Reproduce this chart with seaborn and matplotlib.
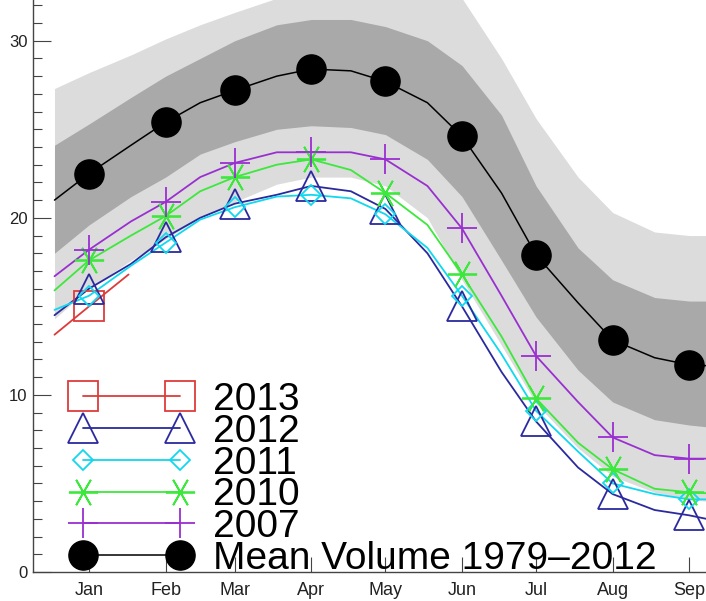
import matplotlib
matplotlib.use("Agg")
import matplotlib.pyplot as plt
from matplotlib.lines import Line2D
from matplotlib.ticker import MultipleLocator
import seaborn as sns

days = [1, 15, 32, 46, 60, 74, 91, 105, 121, 135, 152, 166, 182, 196, 213, 227, 244, 258, 265]
# mid-month positions (marker days) and their month names
mid_days = [15, 46, 74, 105, 135, 166, 196, 227, 258]
months = ["Jan", "Feb", "Mar", "Apr", "May", "Jun", "Jul", "Aug", "Sep"]
mid_idx = [1, 3, 5, 7, 9, 11, 13, 15, 17]

# mean volume 1979-2012 and the +-1 / +-2 std bands (1000 km^3)
mean_vol = [21.0, 22.5, 24.1, 25.4, 26.5, 27.2, 28.0, 28.4, 28.3, 27.7, 26.5, 24.6,
            21.4, 17.9, 15.2, 13.1, 12.1, 11.7, 11.65]
sd2_hi = [27.3, 28.2, 29.2, 30.1, 30.9, 31.6, 32.4, 33.2, 33.6, 33.6, 33.3, 32.4,
          29.0, 25.6, 22.3, 20.3, 19.2, 19.0, 19.0]
sd1_hi = [24.1, 25.3, 26.8, 28.0, 29.0, 30.0, 30.9, 31.2, 31.2, 30.8, 30.0, 28.6,
          25.8, 21.8, 18.3, 16.5, 15.5, 15.3, 15.3]
sd1_lo = [18.0, 19.6, 21.2, 22.3, 23.6, 24.3, 25.0, 25.2, 25.1, 24.7, 23.3, 21.2,
          17.6, 14.4, 11.4, 9.6, 8.6, 8.3, 8.2]
sd2_lo = [14.3, 16.0, 17.6, 18.8, 20.0, 20.9, 21.9, 22.3, 22.3, 21.8, 20.0, 16.5,
          12.8, 9.5, 7.0, 5.4, 4.5, 4.1, 4.0]

# individual years
v2007 = [16.7, 18.2, 19.8, 20.9, 22.3, 23.1, 23.7, 23.7, 23.7, 23.3, 21.8, 19.4,
         15.6, 12.2, 9.6, 7.6, 6.6, 6.4, 6.4]
v2010 = [15.9, 17.6, 19.0, 20.1, 21.5, 22.3, 23.0, 23.3, 22.7, 21.4, 19.6, 16.8,
         13.3, 9.8, 7.3, 5.8, 4.7, 4.5, 4.45]
v2011 = [14.8, 15.6, 17.3, 18.6, 19.9, 20.6, 21.2, 21.3, 21.1, 20.2, 18.3, 15.6,
         12.3, 9.1, 6.8, 5.0, 4.4, 4.1, 4.1]
v2012 = [14.5, 16.0, 17.4, 18.9, 20.0, 20.8, 21.3, 21.8, 21.5, 20.5, 18.0, 15.0,
         11.3, 8.5, 5.9, 4.4, 3.5, 3.2, 3.0]
days13 = [1, 15, 31]
v2013 = [13.4, 15.0, 16.8]

sns.set_style("white")
plt.rcParams['font.family'] = ['Liberation Sans', 'DejaVu Sans']

fig = plt.figure(figsize=(7.06, 6.01), dpi=100)
ax = fig.add_axes([33 / 706, 29 / 601, 673 / 706, 572 / 601])

# std bands
ax.fill_between(days, sd2_lo, sd2_hi, color='#dcdcdc', lw=0, zorder=1)
ax.fill_between(days, sd1_lo, sd1_hi, color='#a9a9a9', lw=0, zorder=2)

# (label, days, values, colour, marker, markersize)
series = [
    ("2013", days13, v2013, '#dd3b3b', 's', 22),
    ("2012", days, v2012, '#2a2a9e', '^', 22),
    ("2011", days, v2011, '#10d8ee', 'D', 10.5),
    ("2010", days, v2010, '#3ce83c', (6, 2, 90), 21),
    ("2007", days, v2007, '#9a2fd0', '+', 21),
]

for label, x, y, c, m, ms in series:
    sns.lineplot(x=x, y=y, color=c, lw=1.3, ax=ax, zorder=4)
    if label == "2013":
        mx, my = [x[1]], [y[1]]
    else:
        mx = mid_days
        my = [y[i] for i in mid_idx]
    ax.plot(mx, my, linestyle='none', marker=m, ms=ms, mfc='none', mec=c, mew=1.3, zorder=5)

sns.lineplot(x=days, y=mean_vol, color='black', lw=1.1, ax=ax, zorder=6)
ax.plot(mid_days, [mean_vol[i] for i in mid_idx], linestyle='none', marker='o', ms=21,
        color='black', zorder=7)

# legend (same order as the original)
handles = [Line2D([], [], color=c, lw=1.3, marker=m, ms=ms, mfc='none', mec=c, mew=1.3)
           for _, _, _, c, m, ms in series]
handles.append(Line2D([], [], color='black', lw=1.1, marker='o', ms=21))
labels = [s[0] for s in series] + ["Mean Volume 1979\u20132012"]
ax.legend(handles, labels, loc='upper left', bbox_to_anchor=(0.0565, 0.332),
          frameon=False, fontsize=28, numpoints=2, handlelength=3.1,
          handletextpad=0.55, labelspacing=-0.11, borderpad=0, borderaxespad=0,
          labelcolor='black')

ax.set_xlim(-7.7, 264.8)
ax.set_ylim(0, 32.3)
ax.set_xticks(mid_days)
ax.set_xticklabels(months)
ax.set_yticks([0, 10, 20, 30])
ax.yaxis.set_minor_locator(MultipleLocator(1))
ax.set_xlabel("")
ax.set_ylabel("")

for s in ["top", "right"]:
    ax.spines[s].set_visible(False)
for s in ["left", "bottom"]:
    ax.spines[s].set_color('#444444')
    ax.spines[s].set_linewidth(1.0)

ax.tick_params(axis='y', which='major', direction='in', length=13, width=0.8,
               color='#444444', labelsize=12, pad=4, left=True, labelcolor='#222222')
ax.tick_params(axis='y', which='minor', direction='in', length=6.5, width=0.8,
               color='#444444', left=True)
ax.tick_params(axis='x', which='major', direction='in', length=11, width=0.8,
               color='#444444', labelsize=13, pad=7, bottom=True, labelcolor='#222222')

fig.savefig("out.png", dpi=100)
